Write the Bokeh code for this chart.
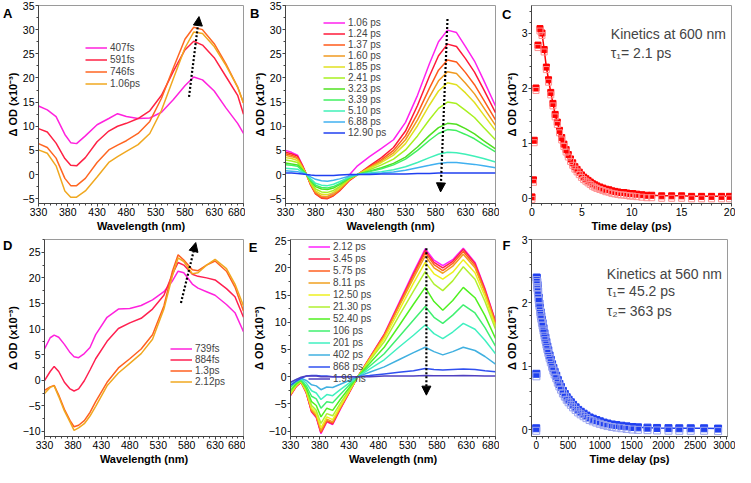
from bokeh.plotting import figure
from bokeh.layouts import row, column
from bokeh.models import Range1d, FixedTicker, Label, Arrow, NormalHead, ColumnDataSource, LinearAxis
from bokeh.transform import dodge
from bokeh.embed import file_html
from bokeh.resources import INLINE

FONT = "Liberation Sans"

# ---------------- Panel A data ----------------
A_wl = [330, 345, 360, 375, 385, 395, 410, 430, 450, 465, 480, 500, 520, 540, 560, 580, 595, 610, 630, 650, 670, 680]
A_407fs = [14.2, 13.4, 12.0, 8.3, 6.6, 6.4, 8.0, 10.3, 11.6, 12.6, 12.0, 11.6, 11.7, 12.9, 15.5, 18.4, 20.2, 19.6, 17.3, 13.8, 10.6, 8.5]
A_591fs = [9.5, 8.8, 6.5, 3.3, 1.9, 1.8, 3.5, 6.8, 9.0, 10.0, 10.6, 11.6, 13.2, 16.4, 21.3, 25.8, 27.6, 26.8, 24.2, 20.3, 16.4, 12.5]
A_746fs = [6.4, 5.6, 3.4, -0.8, -2.3, -2.3, -0.8, 2.5, 5.1, 6.1, 7.0, 8.5, 11.0, 15.8, 22.0, 28.0, 30.5, 30.0, 27.1, 22.9, 18.1, 14.8]
A_1p06ps = [5.1, 4.4, 1.8, -3.4, -4.7, -4.7, -3.4, -0.5, 2.5, 3.7, 4.8, 6.2, 8.5, 13.3, 19.8, 26.2, 29.5, 29.2, 26.5, 22.6, 18.1, 14.8]
A_labels = ["407fs", "591fs", "746fs", "1.06ps"]
A_series = [A_407fs, A_591fs, A_746fs, A_1p06ps]
A_arrow = [587, 16.1, 604, 32.7]

# ---------------- Panel B data ----------------
B_wl = [330, 340, 350, 358, 365, 372, 380, 390, 400, 410, 420, 437, 450, 470, 490, 510, 530, 550, 570, 585, 600, 615, 630, 645, 660, 680]
B_1p06 = [5.0, 4.6, 4.0, 2.0, 0.0, -2.0, -3.7, -4.7, -4.6, -3.8, -2.6, 0.0, 1.8, 3.7, 5.4, 7.2, 10.8, 16.4, 23.0, 27.5, 29.9, 29.4, 26.5, 23.5, 19.6, 14.2]
B_1p24 = [4.6, 4.3, 3.8, 1.9, 0.0, -2.2, -4.0, -4.9, -5.0, -4.4, -3.4, -1.2, 0.0, 1.8, 3.5, 5.6, 9.0, 14.3, 20.4, 24.6, 27.0, 26.5, 24.0, 21.2, 17.7, 12.8]
B_1p37 = [4.3, 4.0, 3.5, 1.8, 0.0, -2.1, -3.9, -4.8, -4.9, -4.3, -3.3, -1.1, 0.0, 1.6, 3.1, 5.0, 8.0, 12.6, 17.9, 21.6, 23.7, 23.3, 21.1, 18.6, 15.5, 11.3]
B_1p60 = [4.0, 3.7, 3.3, 1.6, 0.0, -2.0, -3.7, -4.5, -4.6, -4.1, -3.1, -1.0, 0.0, 1.4, 2.8, 4.5, 7.2, 11.3, 16.1, 19.4, 21.3, 20.9, 18.9, 16.7, 13.9, 10.2]
B_1p85 = [3.5, 3.3, 2.9, 1.4, 0.0, -1.8, -3.4, -4.1, -4.2, -3.7, -2.8, -0.9, 0.0, 1.3, 2.5, 4.0, 6.4, 10.1, 14.4, 17.3, 19.0, 18.6, 16.9, 14.9, 12.4, 9.1]
B_2p41 = [3.0, 2.8, 2.5, 1.2, 0.0, -1.6, -3.0, -3.6, -3.7, -3.3, -2.5, -0.8, 0.0, 1.0, 2.0, 3.2, 5.1, 8.0, 11.4, 13.7, 15.0, 14.7, 13.3, 11.8, 9.8, 7.2]
B_3p23 = [2.4, 2.2, 2.0, 1.0, 0.0, -1.3, -2.5, -3.0, -3.1, -2.8, -2.1, -0.7, 0.0, 0.7, 1.4, 2.3, 3.6, 5.7, 8.1, 9.7, 10.6, 10.4, 9.5, 8.4, 7.0, 5.3]
B_3p39 = [2.0, 1.9, 1.7, 0.8, 0.0, -1.2, -2.2, -2.7, -2.8, -2.5, -1.9, -0.6, 0.0, 0.6, 1.2, 2.0, 3.2, 5.0, 7.1, 8.5, 9.3, 9.1, 8.3, 7.4, 6.2, 4.7]
B_5p10 = [1.3, 1.2, 1.1, 0.5, 0.0, -0.9, -1.8, -2.2, -2.3, -2.0, -1.5, -0.5, 0.0, 0.3, 0.6, 1.0, 1.6, 2.5, 3.5, 4.2, 4.6, 4.5, 4.2, 3.8, 3.3, 2.6]
B_6p88 = [0.8, 0.7, 0.6, 0.3, 0.0, -0.5, -1.0, -1.3, -1.4, -1.2, -0.9, -0.3, 0.0, 0.2, 0.3, 0.5, 0.9, 1.4, 1.9, 2.3, 2.5, 2.5, 2.3, 2.1, 1.8, 1.4]
B_12p90 = [0.3, 0.3, 0.2, 0.1, 0.0, -0.1, -0.2, -0.2, -0.2, -0.2, -0.1, 0.0, 0.0, 0.0, 0.1, 0.1, 0.1, 0.2, 0.2, 0.3, 0.3, 0.3, 0.3, 0.3, 0.3, 0.3]
B_labels = ["1.06 ps", "1.24 ps", "1.37 ps", "1.60 ps", "1.85 ps", "2.41 ps", "3.23 ps", "3.39 ps", "5.10 ps", "6.88 ps", "12.90 ps"]
B_series = [B_1p06, B_1p24, B_1p37, B_1p60, B_1p85, B_2p41, B_3p23, B_3p39, B_5p10, B_6p88, B_12p90]
B_arrow = [600, 32.2, 588.5, -3.6]

# ---------------- Panel C data ----------------
C_t = [0.0, 0.15, 0.22, 0.4, 0.6, 0.8, 1.0, 1.22, 1.44, 1.66, 1.88, 2.1, 2.32, 2.54, 2.76, 2.98, 3.2, 3.42, 3.64, 3.86,
       4.08, 4.3, 4.52, 4.74, 4.96, 5.18, 5.4, 5.62, 5.84, 6.06, 6.28, 6.5, 6.8, 7.1, 7.4, 7.7, 8.0, 8.3, 8.6, 8.9,
       9.2, 9.5, 9.8, 10.1, 10.5, 11.0, 11.5, 12.0, 13.0, 14.0, 15.0, 16.0, 17.0, 18.0, 19.0, 19.8]
C_dod = [0.02, 0.33, 1.05, 2.0, 2.78, 3.08, 3.0, 2.7, 2.38, 2.15, 1.92, 1.72, 1.52, 1.38, 1.23, 1.10, 0.98, 0.88, 0.79, 0.71,
         0.64, 0.57, 0.52, 0.47, 0.42, 0.38, 0.35, 0.32, 0.29, 0.26, 0.24, 0.22, 0.20, 0.18, 0.16, 0.15, 0.13, 0.12, 0.11, 0.10,
         0.10, 0.09, 0.08, 0.08, 0.07, 0.06, 0.05, 0.05, 0.04, 0.04, 0.04, 0.03, 0.03, 0.03, 0.03, 0.03]
C_fit_start = 5
C_text = ["Kinetics at 600 nm", "\u03c4\u2081= 2.1 ps"]

# ---------------- Panel D data ----------------
D_wl = [330, 340, 347, 355, 365, 375, 382, 390, 400, 410, 420, 440, 460, 480, 500, 520, 540, 555, 565, 575, 590, 600, 615, 630, 650, 665, 680]
D_739fs = [6.1, 8.3, 8.8, 8.4, 7.0, 5.4, 4.6, 4.4, 5.2, 6.4, 8.9, 12.3, 13.9, 14.0, 14.6, 15.7, 17.3, 19.4, 21.3, 21.0, 18.8, 18.0, 17.3, 16.6, 14.8, 13.2, 9.5]
D_884fs = [-0.1, 1.7, 2.7, 1.7, -0.4, -1.7, -2.1, -1.7, -0.1, 2.0, 4.2, 7.6, 10.1, 11.2, 12.1, 13.9, 16.6, 20.7, 23.0, 22.5, 20.7, 20.3, 20.0, 19.6, 17.9, 16.3, 12.3]
D_1p3ps = [-2.0, -1.3, -1.0, -2.9, -5.7, -7.9, -9.1, -8.8, -7.9, -6.3, -4.2, -0.4, 2.4, 4.2, 6.1, 8.9, 14.5, 21.3, 24.5, 23.5, 21.6, 21.4, 22.5, 23.3, 21.3, 18.2, 13.5]
D_2p12ps = [-2.6, -1.4, -1.1, -3.2, -6.0, -8.2, -9.8, -9.3, -8.5, -7.0, -5.1, -1.1, 1.4, 3.3, 5.2, 8.0, 13.9, 20.4, 23.9, 23.2, 20.8, 21.0, 22.5, 23.6, 21.8, 18.8, 14.5]
D_labels = ["739fs", "884fs", "1.3ps", "2.12ps"]
D_series = [D_739fs, D_884fs, D_1p3ps, D_2p12ps]
D_arrow = [570, 15.1, 596, 26.9]

# ---------------- Panel E data ----------------
E_wl = [330, 340, 348, 357, 366, 374, 382, 392, 402, 415, 430, 445, 465, 490, 515, 540, 560, 575, 590, 607, 625, 645, 662, 680]
E_2p12 = [-3.5, -1.8, -1.0, -3.0, -6.5, -7.5, -10.5, -8.3, -8.8, -6.0, -3.0, 0.0, 3.5, 7.8, 13.5, 19.2, 23.5, 21.4, 20.4, 21.5, 23.6, 21.0, 16.2, 10.2]
E_3p45 = [-3.4, -1.8, -1.0, -3.0, -6.4, -7.4, -10.3, -8.2, -8.7, -5.9, -3.0, 0.0, 3.4, 7.7, 13.3, 18.9, 23.2, 21.0, 20.0, 21.2, 23.4, 20.8, 16.0, 10.1]
E_5p75 = [-3.4, -1.7, -1.0, -2.9, -6.3, -7.3, -10.2, -8.1, -8.5, -5.8, -2.9, 0.0, 3.4, 7.6, 13.1, 18.6, 22.8, 20.6, 19.5, 20.8, 23.0, 20.4, 15.7, 9.9]
E_8p11 = [-3.3, -1.7, -0.9, -2.8, -6.1, -7.1, -9.9, -7.8, -8.3, -5.7, -2.8, 0.0, 3.3, 7.4, 12.8, 18.1, 22.2, 20.0, 19.0, 20.3, 22.5, 20.0, 15.4, 9.7]
E_12p5 = [-3.1, -1.6, -0.9, -2.7, -5.8, -6.7, -9.4, -7.4, -7.9, -5.4, -2.7, 0.0, 3.1, 7.0, 12.1, 17.2, 21.0, 18.9, 17.9, 19.2, 21.5, 19.1, 14.7, 9.2]
E_21p3 = [-2.9, -1.5, -0.8, -2.5, -5.3, -6.2, -8.6, -6.8, -7.2, -4.9, -2.5, 0.0, 2.9, 6.4, 11.1, 15.7, 19.3, 17.0, 15.8, 17.6, 20.2, 17.9, 13.8, 8.7]
E_52p4 = [-2.5, -1.3, -0.7, -2.1, -4.6, -5.3, -7.4, -5.8, -6.2, -4.2, -2.1, 0.0, 2.4, 5.4, 9.3, 13.3, 16.4, 13.8, 12.2, 14.0, 16.4, 14.5, 11.2, 7.0]
E_106 = [-2.0, -1.0, -0.6, -1.7, -3.6, -4.1, -5.8, -4.6, -4.8, -3.3, -1.6, 0.0, 1.9, 4.2, 7.3, 10.4, 12.9, 10.9, 9.8, 11.3, 13.2, 11.7, 9.0, 5.6]
E_201 = [-1.6, -0.8, -0.4, -1.2, -2.6, -3.0, -4.2, -3.3, -3.5, -2.4, -1.2, 0.0, 1.4, 3.1, 5.4, 7.6, 9.5, 7.9, 7.0, 8.2, 9.8, 8.7, 6.7, 4.2]
E_402 = [-1.2, -0.5, -0.3, -0.7, -1.5, -1.7, -2.4, -1.9, -2.0, -1.4, -0.7, 0.0, 0.8, 1.8, 3.1, 4.4, 5.4, 4.6, 4.0, 4.6, 5.4, 4.8, 3.7, 2.3]
E_868 = [-1.6, -0.8, -0.3, 0.1, 0.2, 0.2, 0.1, 0.1, 0.0, 0.0, 0.0, 0.0, 0.2, 0.5, 0.8, 1.1, 1.5, 1.3, 1.2, 1.3, 1.4, 1.3, 1.1, 0.9]
E_1p99ns = [-1.0, -0.5, -0.1, 0.1, 0.1, 0.1, 0.0, 0.0, 0.0, 0.0, 0.0, 0.0, 0.0, 0.1, 0.1, 0.1, 0.2, 0.15, 0.15, 0.15, 0.2, 0.15, 0.1, 0.1]
E_labels = ["2.12 ps", "3.45 ps", "5.75 ps", "8.11 ps", "12.50 ps", "21.30 ps", "52.40 ps", "106 ps", "201 ps", "402 ps", "868 ps", "1.99 ns"]
E_series = [E_2p12, E_3p45, E_5p75, E_8p11, E_12p5, E_21p3, E_52p4, E_106, E_201, E_402, E_868, E_1p99ns]
E_arrow = [562, 23.6, 562, -3.4]

# ---------------- Panel F data ----------------
F_t = [0, 3, 8, 12, 16, 20, 25, 30, 40, 50, 60, 70, 80, 90, 100, 115, 130, 145, 160, 175, 190, 210, 230, 250, 270, 290,
       315, 340, 365, 390, 420, 450, 480, 510, 545, 580, 620, 660, 700, 745, 790, 840, 890, 945, 1000, 1060, 1120, 1190,
       1260, 1340, 1420, 1510, 1600, 1750, 1900, 2080, 2250, 2430, 2640, 2860]
F_dod = [0.02, 0.88, 2.40, 2.37, 2.33, 2.28, 2.23, 2.18, 2.08, 1.99, 1.92, 1.85, 1.79, 1.73, 1.68, 1.60, 1.52, 1.45, 1.38,
         1.31, 1.25, 1.17, 1.10, 1.03, 0.97, 0.91, 0.85, 0.78, 0.72, 0.67, 0.61, 0.56, 0.51, 0.47, 0.43, 0.39, 0.35, 0.31,
         0.28, 0.25, 0.22, 0.19, 0.17, 0.15, 0.13, 0.11, 0.095, 0.08, 0.07, 0.06, 0.05, 0.04, 0.035, 0.03, 0.025, 0.022,
         0.02, 0.02, 0.02, 0.015]
F_fit_start = 2
F_text = ["Kinetics at 560 nm", "\u03c4\u2081= 45.2 ps", "\u03c4\u2082= 363 ps"]

# ---------------- styles ----------------
A_colors = ["#ff22dd", "#ff2244", "#ff6622", "#f0a820"]
B_colors = ["#ff22ee", "#ff1a3a", "#ff5a1a", "#f09a20", "#e0e020", "#a8f020", "#50e020", "#40f060", "#40f0b8", "#40b0f0", "#2040f0"]
E_colors = ["#ff22ff", "#ff2050", "#ff6020", "#f0a020", "#eef020", "#b0f030", "#50f020", "#40f070", "#40f0c0", "#40b0e0", "#3050f0", "#5040c0"]
D_colors = ["#ff22dd", "#ff2050", "#ff6020", "#f0a820"]

YLAB3 = "\u0394 OD (x10\u207b\u00b3)"
YLAB2 = "\u0394 OD (x10\u207b\u00b2)"


def make_fig(w, h, xr, yr, bl, br, bt, bb, xt, xminor, yt, yminor, xlabel, ylabel):
    p = figure(width=w, height=h, x_range=Range1d(*xr), y_range=Range1d(*yr),
               output_backend="svg", toolbar_location=None,
               min_border_left=bl, min_border_right=br, min_border_top=bt, min_border_bottom=bb)
    p.grid.visible = False
    p.outline_line_color = "#9a9a9a"
    p.xaxis.ticker = FixedTicker(ticks=xt, minor_ticks=xminor)
    p.yaxis.ticker = FixedTicker(ticks=yt, minor_ticks=yminor)
    p.xaxis.axis_label = xlabel
    p.yaxis.axis_label = ylabel
    for ax in (p.xaxis[0], p.yaxis[0]):
        ax.axis_line_color = "#444444"
        ax.major_tick_line_color = "#444444"
        ax.minor_tick_line_color = "#444444"
        ax.major_tick_out = 3
        ax.major_tick_in = 0
        ax.minor_tick_out = 2
        ax.minor_tick_in = 0
        ax.major_label_text_font = FONT
        ax.major_label_text_font_size = "10.5px"
        ax.major_label_text_color = "black"
        ax.axis_label_text_font = FONT
        ax.axis_label_text_font_size = "11px"
        ax.axis_label_text_font_style = "bold"
        ax.axis_label_text_color = "black"
        ax.major_label_standoff = 1
        ax.axis_label_standoff = 1
    return p


def letter_axis(p, txt, yval, standoff):
    # panel letter drawn as the single tick label of an invisible extra left axis
    ax = LinearAxis(ticker=FixedTicker(ticks=[yval]), major_label_overrides={yval: txt})
    ax.axis_line_alpha = 0
    ax.major_tick_line_alpha = 0
    ax.minor_tick_line_alpha = 0
    ax.major_tick_out = 0
    ax.major_tick_in = 0
    ax.minor_tick_out = 0
    ax.minor_tick_in = 0
    ax.major_label_text_font = FONT
    ax.major_label_text_font_size = "13px"
    ax.major_label_text_font_style = "bold"
    ax.major_label_text_color = "black"
    ax.major_label_standoff = standoff
    p.add_layout(ax, "left")


def style_legend(p, loc, spacing):
    lg = p.legend[0]
    lg.location = loc
    lg.background_fill_alpha = 0
    lg.border_line_alpha = 0
    lg.label_text_font = FONT
    lg.label_text_font_size = "10px"
    lg.label_text_line_height = 0.9
    lg.glyph_width = 22
    lg.glyph_height = 9
    lg.label_height = 9
    lg.spacing = spacing
    lg.padding = 0
    lg.margin = 0
    lg.label_standoff = 3


def arrow(p, a, size):
    p.add_layout(Arrow(end=NormalHead(size=size, fill_color="black", line_color="black"),
                       x_start=a[0], y_start=a[1], x_end=a[2], y_end=a[3],
                       line_color="black", line_dash="2 2", line_width=2.2))


wl_ticks = [330, 380, 430, 480, 530, 580, 630, 680]
wl_minor = list(range(330, 681, 10))

# ---- A ----
pA = make_fig(245, 234, (330, 680), (-6, 35), 36, 2, 5, 29, wl_ticks, wl_minor,
              [-5, 0, 5, 10, 15, 20, 25, 30, 35], [-5 + 2.5 * i for i in range(17)],
              "Wavelength (nm)", YLAB3)
for lab, ys, c in zip(A_labels, A_series, A_colors):
    pA.line(A_wl, ys, line_color=c, line_width=1.5, legend_label=lab)
style_legend(pA, (47, 114), 1)
arrow(pA, A_arrow, 9)
letter_axis(pA, "A", 33.4, -9)

# ---- B ----
pB = make_fig(254, 234, (330, 680), (-6, 35), 40, 4, 5, 29, wl_ticks, wl_minor,
              [-5, 0, 5, 10, 15, 20, 25, 30, 35], [-5 + 2.5 * i for i in range(17)],
              "Wavelength (nm)", YLAB3)
for lab, ys, c in zip(B_labels, B_series, B_colors):
    pB.line(B_wl, ys, line_color=c, line_width=1.5, legend_label=lab)
style_legend(pB, (38, 65), 0)
arrow(pB, B_arrow, 9)
letter_axis(pB, "B", 33.4, -9)

# ---- C ----
pC = make_fig(236, 234, (-0.05, 20), (-0.1, 3.5), 28, 4, 5, 29, [0, 5, 10, 15, 20], list(range(0, 21)),
              [0, 1, 2, 3], [0.2 * i for i in range(18)], "Time delay (ps)", YLAB2)
srcC = ColumnDataSource(dict(t=C_t, v=C_dod))
pC.line(C_t[C_fit_start:], C_dod[C_fit_start:], line_color="#ff0000", line_width=1.5)
pC.scatter("t", "v", source=srcC, marker="square", size=6, fill_color="#ff0000", line_color="#ff0000")
pC.scatter("t", dodge("v", -0.045, range=pC.y_range), source=srcC, marker="square", size=6,
           fill_alpha=0, line_color="#ff9090", line_width=1)
pC.add_layout(Label(x=7.9, y=2.98, text=C_text[0], text_font=FONT, text_font_size="14px", text_baseline="middle"))
pC.add_layout(Label(x=7.9, y=2.63, text=C_text[1], text_font=FONT, text_font_size="14px", text_baseline="middle"))
letter_axis(pC, "C", 3.34, -9)

# ---- D ----
pD = make_fig(245, 233, (330, 680), (-11, 27.5), 36, 2, 5, 28, wl_ticks, wl_minor,
              [-10, -5, 0, 5, 10, 15, 20, 25], [-10 + 2.5 * i for i in range(16)],
              "Wavelength (nm)", YLAB3)
for lab, ys, c in zip(D_labels, D_series, D_colors):
    pD.line(D_wl, ys, line_color=c, line_width=1.5, legend_label=lab)
style_legend(pD, (126, 49), 0)
arrow(pD, D_arrow, 9)
letter_axis(pD, "D", 26.3, -9)

# ---- E ----
pE = make_fig(254, 233, (330, 680), (-11, 25.2), 40, 4, 5, 28, wl_ticks, wl_minor,
              [-10, -5, 0, 5, 10, 15, 20, 25], [-10 + 2.5 * i for i in range(15)],
              "Wavelength (nm)", YLAB3)
for lab, ys, c in zip(E_labels, E_series, E_colors):
    pE.line(E_wl, ys, line_color=c, line_width=1.5, legend_label=lab)
style_legend(pE, (18, 52), 1)
arrow(pE, E_arrow, 9)
letter_axis(pE, "E", 23.7, -8)

# ---- F ----
pF = make_fig(236, 233, (-74, 3008), (-0.11, 3.0), 28, 8, 5, 28, [0, 500, 1000, 1500, 2000, 2500, 3000],
              list(range(0, 3001, 100)), [0, 1, 2, 3], [0.2 * i for i in range(16)], "Time delay (ps)", YLAB2)
pF.xaxis.major_label_text_font_size = "10px"
srcF = ColumnDataSource(dict(t=F_t, v=F_dod))
pF.line(F_t[F_fit_start:], F_dod[F_fit_start:], line_color="#2040f0", line_width=1.5)
pF.scatter("t", "v", source=srcF, marker="square", size=7, fill_color="#2040f0", line_color="#2040f0")
pF.scatter("t", dodge("v", -0.04, range=pF.y_range), source=srcF, marker="square", size=7,
           fill_alpha=0, line_color="#9aa4ee", line_width=1)
pF.add_layout(Label(x=1110, y=2.46, text=F_text[0], text_font=FONT, text_font_size="14px", text_baseline="middle"))
pF.add_layout(Label(x=1110, y=2.18, text=F_text[1], text_font=FONT, text_font_size="14px", text_baseline="middle"))
pF.add_layout(Label(x=1110, y=1.87, text=F_text[2], text_font=FONT, text_font_size="14px", text_baseline="middle"))
letter_axis(pF, "F", 2.9, -8)

layout = column(row(pA, pB, pC), row(pD, pE, pF))
open("out.html", "w").write(file_html(layout, INLINE))
